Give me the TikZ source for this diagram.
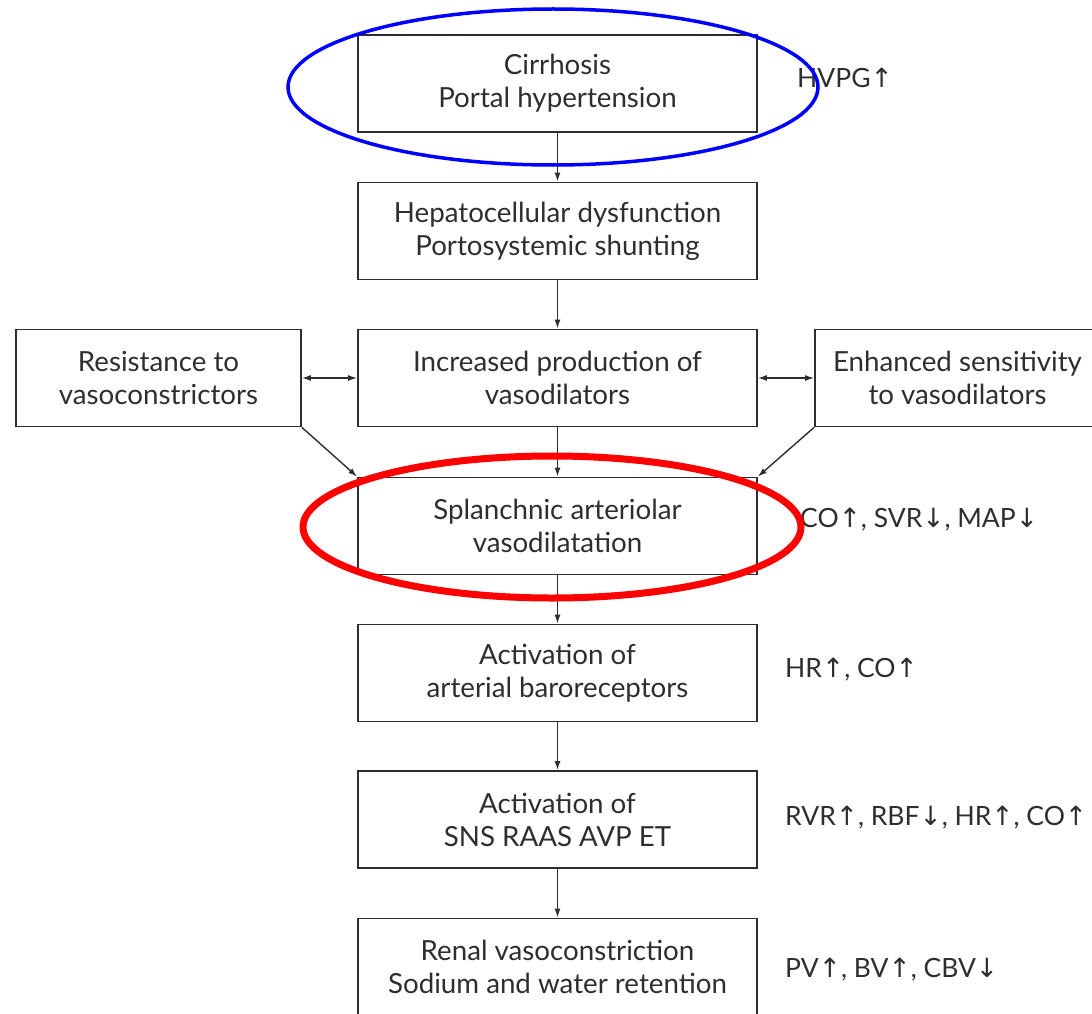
\documentclass[tikz,border=0pt]{standalone}
\usepackage{fontspec}
\setmainfont{Lato}
\newfontfamily\symf{DejaVu Sans}
\usetikzlibrary{arrows.meta}
\definecolor{ink}{HTML}{2E2E2E}
\newcommand{\upa}{{\symf\char"2191}}
\newcommand{\dna}{{\symf\char"2193}}
\begin{document}
\begin{tikzpicture}[x=1pt,y=-1pt,
  box/.style={draw=ink, line width=1.7pt, rectangle, minimum width=399pt, minimum height=97pt, align=center, text=ink, font=\fontsize{27.7}{33}\selectfont, inner sep=0pt},
  sidebox/.style={box, minimum width=285pt},
  lab/.style={anchor=west, text=ink, font=\fontsize{26.5}{33}\selectfont, inner sep=0pt},
  arr/.style={draw=ink, line width=1.4pt, -{Latex[length=9pt,width=6pt]}},
  darr/.style={draw=ink, line width=1.4pt, {Latex[length=9pt,width=6pt]}-{Latex[length=9pt,width=6pt]}}]
\useasboundingbox (0,0) rectangle (1092,1014);
\node[box] (b1) at (557.5,83.5) {Cirrhosis\\Portal hypertension};
\node[box] (b2) at (557.5,231) {Hepatocellular dysfunction\\Portosystemic shunting};
\node[box] (b3) at (557.5,378) {Increased production of\\vasodilators};
\node[sidebox] (bl) at (158.5,378) {Resistance to\\vasoconstrictors};
\node[sidebox] (br) at (957.5,378) {Enhanced sensitivity\\to vasodilators};
\node[box] (b4) at (557.5,526) {Splanchnic arteriolar\\vasodilatation};
\node[box] (b5) at (557.5,673) {Activation of\\arterial baroreceptors};
\node[box] (b6) at (557.5,819.5) {Activation of\\SNS RAAS AVP ET};
\node[box] (b7) at (557.5,967) {Renal vasoconstriction\\Sodium and water retention};
\node[lab] (l1) at (797,78) {HVPG\upa};
\node[lab] (l4) at (800,520) {CO\upa, SVR\dna, MAP\dna};
\node[lab] (l5) at (785,670) {HR\upa, CO\upa};
\node[lab] (l6) at (785,818) {RVR\upa, RBF\dna, HR\upa, CO\upa};
\node[lab] (l7) at (785,970) {PV\upa, BV\upa, CBV\dna};
\draw[arr] (b1) -- (b2);
\draw[arr] (b2) -- (b3);
\draw[arr] (b3) -- (b4);
\draw[arr] (b4) -- (b5);
\draw[arr] (b5) -- (b6);
\draw[arr] (b6) -- (b7);
\draw[darr] (bl) -- (b3);
\draw[darr] (b3) -- (br);
\draw[arr] (bl.south east) -- (b4.north west);
\draw[arr] (br.south west) -- (b4.north east);
\draw[blue, line width=3.5pt] (553,87) ellipse [x radius=265pt, y radius=78pt];
\draw[red, line width=7pt] (552,527) ellipse [x radius=249pt, y radius=71pt];
\end{tikzpicture}
\end{document}
